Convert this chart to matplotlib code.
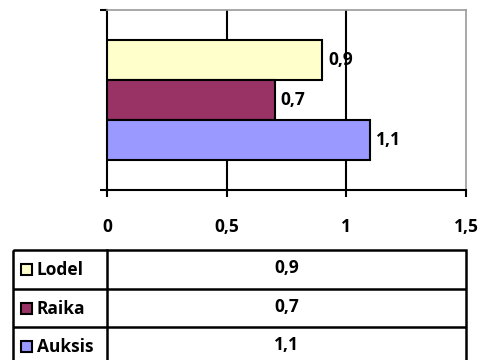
import matplotlib.pyplot as plt
from matplotlib.patches import Rectangle

# series (top to bottom as shown)
names = ["Lodel", "Raika", "Auksis"]
values = [0.9, 0.7, 1.1]
colors = ["#FFFFCC", "#993366", "#9999FF"]
xticks = [0, 0.5, 1, 1.5]

plt.rcParams['font.family'] = ['Open Sans', 'DejaVu Sans']
plt.rcParams['font.weight'] = 'bold'
FS = 12.5

W, H = 481, 360
fig = plt.figure(figsize=(W / 100, H / 100), dpi=100)


def px_axes(x0, y0, x1, y1):
    return fig.add_axes([x0 / W, 1 - y1 / H, (x1 - x0) / W, (y1 - y0) / H])


def fmt(v):
    s = f"{v:g}"
    return s.replace(".", ",")


# --- bar chart ---
ax = px_axes(107, 10, 466, 190)
n = len(names)
ypos = [0.75 + (n - 1 - i) + 0.5 for i in range(n)]
ax.barh(ypos, values, height=1.0, color=colors, edgecolor="black", linewidth=1.5, zorder=3)
for y, v in zip(ypos, values):
    ax.text(v + 0.025, y, fmt(v), ha="left", va="center", fontsize=FS, fontweight="bold", zorder=4)

ax.set_xlim(0, 1.5)
ax.set_ylim(0, 4.5)
ax.set_xticks(xticks)
ax.set_xticklabels([fmt(t) for t in xticks], fontsize=FS, fontweight="bold")
ax.set_yticks([0, 4.5])
ax.set_yticklabels([])
ax.tick_params(axis="x", direction="out", length=5, width=1.5, pad=15)
ax.tick_params(axis="y", direction="out", length=5, width=1.5)
for t in xticks[1:-1]:
    ax.axvline(t, color="black", linewidth=1.5, zorder=1)
ax.spines["left"].set_linewidth(1.5)
ax.spines["bottom"].set_linewidth(1.5)
ax.spines["top"].set_color("#999999")
ax.spines["right"].set_color("#999999")
ax.spines["top"].set_linewidth(1.2)
ax.spines["right"].set_linewidth(1.2)

# --- data table ---
tx0, tx1, ty0, row_h = 13, 466, 250, 38.5
split = 107
tab = px_axes(tx0, ty0, tx1, ty0 + row_h * n)
tab.set_xlim(tx0, tx1)
tab.set_ylim(ty0 + row_h * n, ty0)
tab.axis("off")
tab.add_patch(Rectangle((tx0, ty0), tx1 - tx0, row_h * n, fill=False,
                        edgecolor="black", linewidth=1.8, clip_on=False))
tab.plot([split, split], [ty0, ty0 + row_h * n], color="black", linewidth=1.8, clip_on=False)
for i in range(1, n):
    yl = ty0 + row_h * i
    tab.plot([tx0, tx1], [yl, yl], color="black", linewidth=1.8)
for i, (name, v, c) in enumerate(zip(names, values, colors)):
    yc = ty0 + row_h * i + row_h / 2
    tab.add_patch(Rectangle((21, yc - 5), 11, 11, facecolor=c, edgecolor="black", linewidth=1.5))
    tab.text(37, yc + 1, name, ha="left", va="center", fontsize=FS, fontweight="bold")
    tab.text((split + tx1) / 2, yc - 1, fmt(v), ha="center", va="center", fontsize=FS, fontweight="bold")

fig.savefig("out.png", dpi=100)
